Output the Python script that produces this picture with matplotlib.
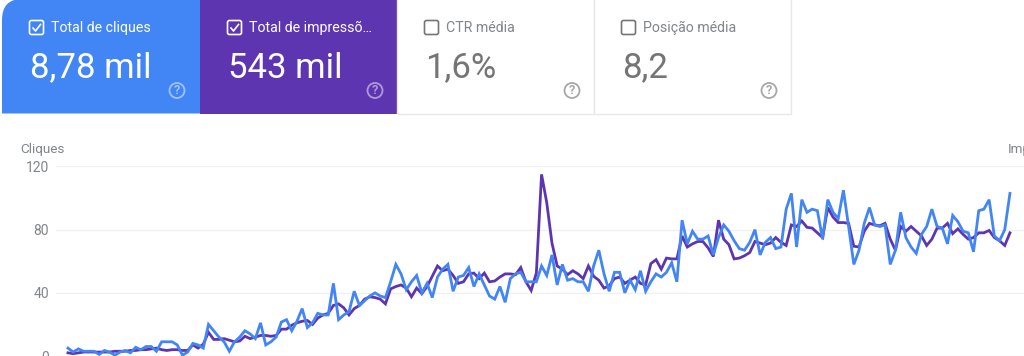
import numpy as np
import matplotlib
matplotlib.use('Agg')
import matplotlib.pyplot as plt
from matplotlib.patches import Rectangle, FancyBboxPatch, Circle, PathPatch
from matplotlib.path import Path

plt.rcParams['font.family'] = ['Roboto', 'DejaVu Sans']

# Valores
cliques = [5, 2.5, 4.5, 3, 3, 3, 1, 3.5, 2.5, 0.5, 2.5, 3.5, 2, 5.5, 4, 6, 6, 3, 9, 9, 9, 7, 0.5, 2.5, 8, 7, 5,
           20, 16, 12, 9, 3, 9, 12, 16, 14, 11, 21, 7, 9, 12, 21.5, 23, 16, 22, 30, 18, 21, 27, 26, 26, 46, 23,
           26, 28, 41, 32, 35, 38, 40, 38, 37, 47, 58, 52, 42, 47, 51, 40, 46, 37, 50, 55, 58, 41, 50, 51, 56,
           44, 52, 45, 38, 36, 44, 34, 49, 52, 53, 47, 47, 47, 57, 51, 64, 45, 58, 48, 49, 47, 47, 41, 57, 67,
           52, 41, 53, 53, 40, 48, 42, 54, 41, 47, 52, 50, 53, 59, 47,
           86, 71, 79, 74, 74, 76, 64, 75, 83, 79, 73, 68, 67, 72, 80, 64, 72, 75, 68, 69, 93, 103, 69, 99, 91,
           93, 92, 74, 99, 91, 87, 105, 82, 58, 67, 84, 94, 83, 82, 83, 58, 67, 91, 75, 69, 65, 77, 82, 93, 82,
           81, 71, 89, 85, 79, 78, 66, 92, 93, 99, 76, 73, 80, 103]
impressoes = [2, 1.5, 2, 2.5, 2.5, 2.5, 2.5, 2.5, 2.5, 3, 3, 3, 3.5, 3.5, 4, 4, 4.5, 5, 4, 3.5, 4, 4, 3.5, 3.5, 7, 5, 7.5,
              15, 10.5, 10.5, 11, 10, 9, 9.5, 12.5, 11, 12, 13, 13, 12.5, 13, 17, 17, 19.5, 21, 22, 22.5, 20, 24, 26, 27, 32, 33,
              30.5, 26, 30, 32, 36, 37.5, 37, 36, 33, 42.5, 44, 45, 43, 37.5, 43, 39.5, 44, 50.5, 57, 54, 55, 51, 46, 47, 52,
              52.5, 49, 52.5, 47, 47.5, 50, 52, 52, 51.5, 56, 47, 41.5, 52.5, 115, 97, 71.5, 57, 55, 51.5, 54, 52, 49, 57, 50.5, 48,
              43, 44.5, 49, 50, 46, 48, 50, 46, 45, 58.5, 61, 55, 62, 61.5, 61.5,
              76, 69, 71, 72.5, 72.5, 68.5, 63, 86, 74, 70.5, 61.5, 62, 63.5, 65.5, 72.5, 71.5, 70.5, 71.5, 75, 72, 70, 83, 82, 85.5, 81.5,
              81, 78, 75, 94, 88, 84.5, 84.5, 84, 69.5, 69, 79, 84, 83, 82.5, 84, 74, 67, 82, 79, 82, 79, 76, 70, 74, 81,
              81, 84, 77.5, 80.5, 77, 74, 75, 78, 78, 79.5, 75, 73, 70, 78]
y_ticks = [0, 40, 80, 120]
titulos = ['Total de cliques', 'Total de impressõ…', 'CTR média', 'Posição média']
valores = ['8,78 mil', '543 mil', '1,6%', '8,2']

AZUL = '#4285F4'
ROXO = '#5E35B1'
CINZA = '#757575'

fig = plt.figure(figsize=(10.24, 3.56), dpi=100, facecolor='white')

# Gráfico de linhas
ax = fig.add_axes([56 / 1024, 0, 968 / 1024, 189.5 / 356])
x = np.arange(len(cliques))
ax.plot(x, impressoes, color=ROXO, lw=2, solid_joinstyle='miter')
ax.plot(x, cliques, color=AZUL, lw=2, solid_joinstyle='miter')
ax.set_xlim(-2.3, 183.7)
ax.set_ylim(0, 120)
ax.set_yticks(y_ticks)
ax.set_xticks([])
ax.grid(True, axis='y', color='#f0f0f0', lw=1)
ax.set_axisbelow(True)
ax.tick_params(axis='y', length=0, pad=5, labelsize=10, labelcolor='#80868b')
for s in ax.spines.values():
    s.set_visible(False)

# Cartões no topo, em coordenadas de pixel
top = fig.add_axes([0, 0, 1, 1], facecolor='none')
top.set_xlim(0, 1024)
top.set_ylim(356, 0)
top.axis('off')

bordas = [2, 200, 397, 594, 791]
fundos = [AZUL, ROXO, 'white', 'white']
for i in range(4):
    x0, x1 = bordas[i], bordas[i + 1]
    selecionado = i < 2
    cor_txt = 'white' if selecionado else CINZA
    if i == 0:
        # canto arredondado em cima, à esquerda
        verts = [(x1, -1), (22, -1), (2, -1), (2, 20), (2, 113.5), (x1, 113.5), (x1, -1)]
        codes = [Path.MOVETO, Path.LINETO, Path.CURVE3, Path.CURVE3, Path.LINETO, Path.LINETO, Path.CLOSEPOLY]
        top.add_patch(PathPatch(Path(verts, codes), fc=fundos[i], ec='none'))
    elif selecionado:
        top.add_patch(Rectangle((x0, -1), x1 - x0, 114.5, fc=fundos[i], ec='none'))
    else:
        top.add_patch(Rectangle((x0, -2), x1 - x0, 115.5, fc='white', ec='#e8e8e8', lw=1))

    cx = x0 + 27
    top.add_patch(FancyBboxPatch((cx + 1.5, 21.5), 12, 12, boxstyle='round,pad=1,rounding_size=2',
                                 fc='none', ec='white' if selecionado else '#757575', lw=1.2))
    if selecionado:
        top.plot([cx + 4, cx + 6.5, cx + 11.5], [28, 31, 24.5], color='white', lw=1.2)
    top.text(x0 + 49, 28, titulos[i], fontsize=10.2, color='white' if selecionado else '#80868b',
             va='center', ha='left')
    top.text(x0 + 28, 68, valores[i], fontsize=25, color=cor_txt, va='center', ha='left')

    qx = x0 + 175
    alpha = 0.5 if selecionado else 0.75
    cor_q = 'white' if selecionado else '#8a8a8a'
    top.add_patch(Circle((qx, 90.5), 7.5, fc='none', ec=cor_q, lw=1.3, alpha=alpha))
    top.text(qx, 90.8, '?', fontsize=9, color=cor_q, alpha=alpha, ha='center', va='center', weight='bold')

top.text(20, 149, 'Cliques', fontsize=9.7, color='#80868b', va='center', ha='left')
top.text(1008, 149, 'Impressões', fontsize=9.7, color='#80868b', va='center', ha='left', clip_on=True)

fig.savefig('out.png', dpi=100)
